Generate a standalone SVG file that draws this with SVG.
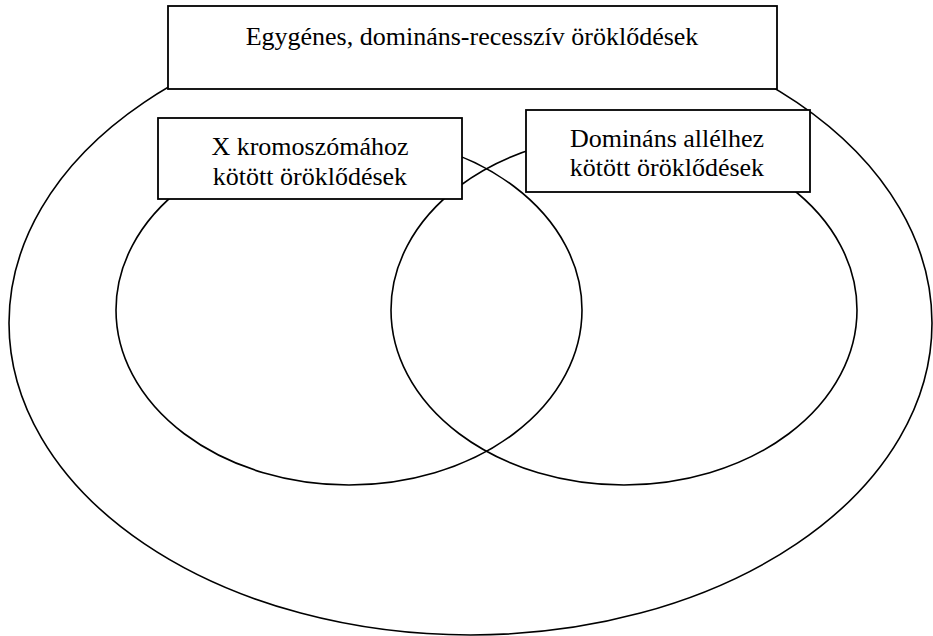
<svg xmlns="http://www.w3.org/2000/svg" width="933" height="636" viewBox="0 0 933 636">
<style>
.sh{fill:none;stroke:#000;stroke-width:1.6}
.bx{fill:#fff;stroke:#000;stroke-width:1.8}
.t{font-family:"Liberation Serif","Times New Roman",serif;font-size:26px;fill:#000;text-anchor:middle}
</style>
<rect width="933" height="636" fill="#fff"/>
<g id="outer"><ellipse class="sh" cx="470.5" cy="323" rx="461.5" ry="312"/></g>
<g id="xlinked-set"><ellipse class="sh" cx="349" cy="310" rx="233" ry="175"/></g>
<g id="dominant-set"><ellipse class="sh" cx="624" cy="310" rx="233" ry="175"/></g>
<g id="title">
<rect class="bx" x="168" y="6" width="609" height="83"/>
<text class="t" x="472" y="45">Egygénes, domináns-recesszív öröklődések</text>
</g>
<g id="xlinked">
<rect class="bx" x="158" y="118" width="304" height="81"/>
<text class="t" x="310" y="155">X kromoszómához</text>
<text class="t" x="310" y="185">kötött öröklődések</text>
</g>
<g id="dominant">
<rect class="bx" x="526" y="110" width="284" height="82"/>
<text class="t" x="667" y="147">Domináns allélhez</text>
<text class="t" x="667" y="176">kötött öröklődések</text>
</g>
<g id="connectors"></g>
</svg>
